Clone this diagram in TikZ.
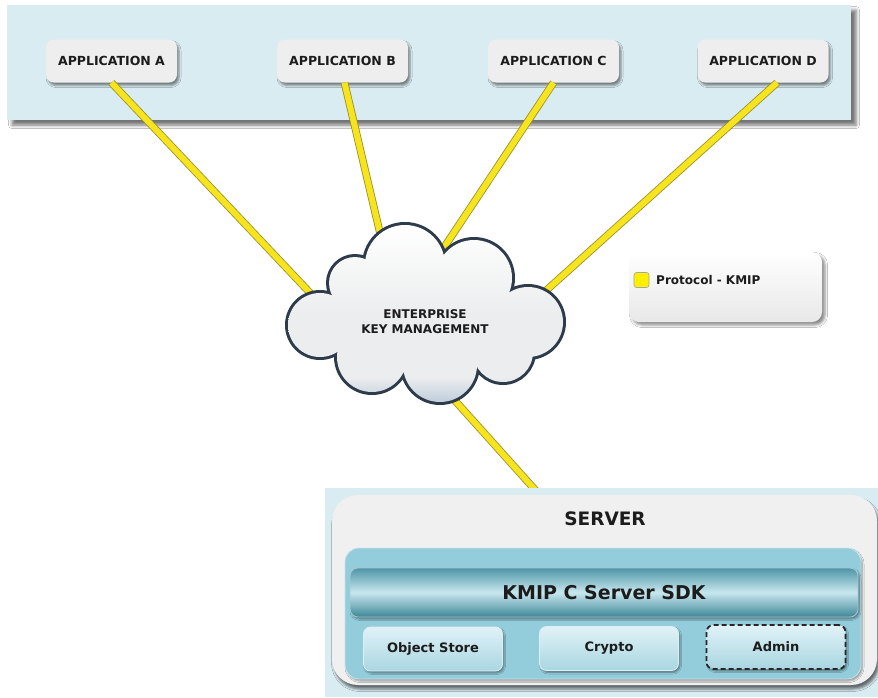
\documentclass[tikz,border=0pt]{standalone}
\usepackage{fontspec}
\setmainfont{DejaVu Sans}
\usetikzlibrary{shadows.blur}
\definecolor{bandblue}{HTML}{D9ECF2}
\definecolor{appfill}{HTML}{EEEEEE}
\definecolor{txt}{HTML}{1C1C1C}
\definecolor{kmipyel}{HTML}{F6E41E}
\definecolor{kmipedge}{HTML}{9A8C2A}
\definecolor{legyel}{HTML}{FAF000}
\definecolor{cloudline}{HTML}{2D3B4B}
\definecolor{cloudbot}{HTML}{BFCEDC}
\definecolor{cloudmid}{HTML}{ECEDEE}
\definecolor{srvwhite}{HTML}{F0F0F0}
\definecolor{innerblue}{HTML}{93CCDA}
\definecolor{bartop}{HTML}{4F96A7}
\definecolor{barmid}{HTML}{C8E7EF}
\definecolor{barbot}{HTML}{3C8696}
\definecolor{modtop}{HTML}{E0F2F7}
\definecolor{modbot}{HTML}{A9D6E1}
\pgfdeclareverticalshading{cloudshade}{100bp}{color(0bp)=(cloudbot); color(25bp)=(cloudbot);
  color(32bp)=(cloudmid); color(50bp)=(cloudmid); color(75bp)=(white); color(100bp)=(white)}
\begin{document}
\begin{tikzpicture}[x=1pt,y=-1pt,
  band/.style={fill=bandblue, minimum width=844pt, minimum height=115pt, inner sep=0pt,
    blur shadow={shadow xshift=5pt, shadow yshift=-5pt, shadow opacity=55, shadow blur radius=3.5pt}},
  app/.style={fill=appfill, rounded corners=8pt, minimum width=131pt, minimum height=43pt, inner sep=0pt,
    text=txt, font=\bfseries\fontsize{12.5}{15}\selectfont,
    blur shadow={shadow xshift=2pt, shadow yshift=-3pt, shadow opacity=45, shadow blur radius=2pt}},
  kmip/.style={draw=kmipedge, line width=0.8pt, double=kmipyel, double distance=6pt},
  legendbox/.style={top color=white, bottom color=black!9, rounded corners=10pt, minimum width=193pt,
    minimum height=70pt, inner sep=0pt,
    blur shadow={shadow xshift=3pt, shadow yshift=-3pt, shadow opacity=45, shadow blur radius=2.5pt}},
  lbl/.style={text=txt, font=\bfseries\fontsize{12}{14}\selectfont, inner sep=0pt},
  module/.style={top color=modtop, bottom color=modbot, draw=white!60!modbot, line width=0.8pt,
    rounded corners=7pt, minimum width=139pt, minimum height=44pt, inner sep=0pt,
    text=txt, font=\bfseries\fontsize{13}{15}\selectfont,
    blur shadow={shadow xshift=1.5pt, shadow yshift=-2pt, shadow opacity=40, shadow blur radius=1.5pt}}
]
\useasboundingbox (0,0) rectangle (878,697);
\fill[white] (0,0) rectangle (878,697);

% ---------- top band ----------
\node[band] (band) at (429,62.5) {};

\node[app] (appA) at (111.5,61) {APPLICATION A};
\node[app] (appB) at (342.5,61) {APPLICATION B};
\node[app] (appC) at (553.5,61) {APPLICATION C};
\node[app] (appD) at (763,61) {APPLICATION D};

% ---------- connectors ----------
\coordinate (ca) at (331,315);
\coordinate (cb) at (384,250);
\coordinate (cc) at (437,258);
\coordinate (cd) at (530,305);
\coordinate (ce) at (441,385);
\coordinate (srvtop) at (537,492);

\draw[kmip] (appA.south) -- (ca);
\draw[kmip] ([xshift=2pt]appB.south) -- (cb);
\draw[kmip] (appC.south) -- (cc);
\draw[kmip] ([xshift=14pt]appD.south) -- (cd);
\draw[kmip] (ce) -- (srvtop);

% ---------- cloud ----------
\newcommand{\cloudpath}{%
  (320,325) circle[radius=32]
  (355,283) circle[radius=26]
  (405,265) circle[radius=40]
  (474,278) circle[radius=38]
  (528,322) circle[radius=35]
  (503,352) circle[radius=30]
  (440,365) circle[radius=37]
  (372,357) circle[radius=35]
  (425,322) ellipse[x radius=105, y radius=50]}
\draw[cloudline, line width=6pt] \cloudpath;
\shade[shading=cloudshade] \cloudpath;
\node[lbl, align=center, font=\bfseries\fontsize{12}{15}\selectfont] (ekm) at (425,322)
  {ENTERPRISE\\KEY MANAGEMENT};

% ---------- legend ----------
\node[legendbox] (legend) at (725.5,287) {};
\node[fill=legyel, draw=black!35, line width=0.6pt, rounded corners=2.5pt,
      minimum size=15pt, inner sep=0pt] (legsq) at (641.5,280) {};
\node[lbl, anchor=west] (legtxt) at (656,280) {Protocol - KMIP};

% ---------- server ----------
\fill[bandblue] (325,488) rectangle (878,697);
\node[fill=srvwhite, rounded corners=26pt, minimum width=545pt, minimum height=190pt, inner sep=0pt,
      blur shadow={shadow xshift=2pt, shadow yshift=-4pt, shadow opacity=55, shadow blur radius=2.5pt}]
      (srvbox) at (604.5,590) {};
\node[text=txt, font=\bfseries\fontsize{18.5}{20}\selectfont, inner sep=0pt] (srvlbl) at (605,519) {SERVER};
\node[fill=innerblue, draw=white!45!innerblue, line width=0.8pt, rounded corners=14pt,
      minimum width=516pt, minimum height=131pt, inner sep=0pt,
      blur shadow={shadow xshift=1.5pt, shadow yshift=-2pt, shadow opacity=35, shadow blur radius=1.5pt}]
      (inner) at (603,613.5) {};
\node[top color=bartop, bottom color=barbot, middle color=barmid, draw=white!50!bartop, line width=0.8pt,
      rounded corners=8pt, minimum width=508pt, minimum height=49pt, inner sep=0pt,
      text=txt, font=\bfseries\fontsize{19}{21}\selectfont,
      blur shadow={shadow xshift=1.5pt, shadow yshift=-2pt, shadow opacity=40, shadow blur radius=1.5pt}]
      (sdk) at (604,592.5) {KMIP C Server SDK};
\node[module] (store) at (433,649) {Object Store};
\node[module] (crypto) at (609,648.5) {Crypto};
\node[module, draw=black!85, line width=1.8pt, dash pattern=on 5pt off 3pt] (admin) at (776,647) {Admin};
\end{tikzpicture}
\end{document}
